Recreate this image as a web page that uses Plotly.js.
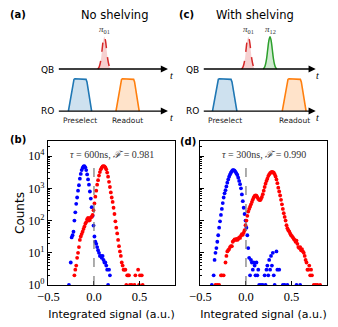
<!DOCTYPE html>
<html>
<head>
<meta charset="utf-8">
<script src="https://cdn.plot.ly/plotly-3.0.1.min.js"></script>
<style>
body{margin:0;background:#fff;}
#plot{width:338px;height:327px;}
</style>
</head>
<body>
<div id="plot"></div>
<script>

// ---- histogram data (bin centre, counts) ----
// (b) no shelving, tau = 600 ns
var xB_g = [-0.275,-0.255,-0.245,-0.235,-0.225,-0.215,-0.205,-0.195,-0.185,-0.175,
            -0.165,-0.155,-0.145,-0.135,-0.125,-0.115,-0.105,-0.095,-0.085,-0.075,
            -0.065,-0.055,-0.045,-0.035,-0.025,-0.015,-0.005,0.005,0.015,0.025,
            0.035,0.045,0.055,0.065,0.075,0.085,0.095,0.105,0.115,0.125,
            0.135,0.145,0.155,0.165,0.175];
var nB_g = [1,5,30,35,45,100,180,330,520,850,
            1250,2000,2800,3700,4300,4800,4900,4500,3700,2700,
            1900,1300,800,480,260,140,70,32,22,19,
            15,12,10,8,8,7,8,6,5,5,
            4,3,1,3,2];

var xB_e = [-0.215,-0.205,-0.195,-0.185,-0.175,-0.165,-0.155,-0.145,-0.135,-0.125,
            -0.115,-0.105,-0.095,-0.085,-0.075,-0.065,-0.055,-0.045,-0.035,-0.025,
            -0.015,-0.005,
            0.005,0.015,0.025,0.035,0.045,0.055,0.065,0.075,0.085,0.095,
            0.105,0.115,0.125,0.135,0.145,0.155,0.165,0.175,0.185,0.195,
            0.205,0.215,0.225,0.235,0.245,0.255,0.265,0.275,0.285,0.295,
            0.305,0.315,0.325,0.335,0.345,0.355,0.365,0.375,0.385,0.395,
            0.415,0.445,0.455,0.485,0.495,0.505,0.525,0.535];
var nB_e = [2,3,4,7,10,15,25,32,38,45,
            55,65,80,90,110,120,100,105,125,130,
            150,210,
            340,550,850,1300,1800,2500,3200,3900,4400,4800,
            4900,4800,4500,3900,3100,2300,1600,1100,750,520,
            380,250,160,95,60,40,25,16,11,8,
            5,4,3,3,3,1,2,2,2,1,
            1,1,2,3,1,2,2,1];

// (d) with shelving, tau = 300 ns
var xD_g = [-0.375,-0.355,
            -0.345,-0.335,-0.325,-0.315,-0.305,-0.295,-0.285,-0.275,-0.265,-0.255,
            -0.245,-0.235,-0.225,-0.215,-0.205,-0.195,-0.185,-0.175,-0.165,-0.155,
            -0.145,-0.135,-0.125,-0.115,-0.105,-0.095,-0.085,-0.075,-0.065,-0.055,
            -0.045,-0.035,-0.025,-0.015,-0.005,0.005,0.015,0.025,0.035,0.045,
            0.055,0.065,0.075,0.085,0.095,0.105,0.115,0.125,0.135,0.145,
            0.165,0.185,0.205,0.215,0.225,0.235,0.245,0.255,0.265,0.275,0.285,0.295,0.305,0.315,
            0.335,0.345,0.365,0.405,0.425,0.455,0.555,0.595];
var nD_g = [1,2,
            6,10,14,22,35,60,95,150,230,350,
            520,700,880,1150,1500,1900,2300,2700,3050,3400,
            3650,3700,3550,3250,2900,2600,2150,1700,1350,1000,
            650,400,250,160,100,60,35,14,7,2,
            6,5,3,5,4,2,5,2,3,1,
            1,1,2,1,3,4,2,6,3,8,4,10,2,1,
            11,3,3,1,1,1,1,1];

var xD_e = [-0.335,-0.315,-0.295,-0.275,-0.265,-0.245,
            -0.225,-0.215,-0.205,-0.195,-0.185,-0.175,-0.165,-0.155,-0.145,-0.135,
            -0.125,-0.115,-0.105,-0.095,-0.085,-0.075,-0.065,-0.055,-0.045,-0.035,
            -0.025,-0.015,-0.005,0.005,0.015,0.025,0.035,0.045,0.055,0.065,
            0.075,0.085,0.095,0.105,0.115,0.125,0.135,0.145,0.155,0.165,
            0.175,0.185,0.195,0.205,0.215,0.225,0.235,0.245,0.255,0.265,
            0.275,0.285,0.295,0.305,0.315,0.325,0.335,0.345,0.355,0.365,
            0.375,0.385,0.395,0.405,0.415,0.425,0.435,0.445,0.455,0.465,
            0.475,0.485,0.495,0.505,0.515,0.525,0.535,0.545,0.555,0.565,
            0.575,0.585,0.595,0.605,0.615,0.625,0.635,0.645,0.655,0.665,
            0.675,0.685,0.695,0.705,0.715,0.725,
            0.745,0.765,0.785,0.815];
var nD_e = [1,1,1,2,2,2,
            5,8,11,12,13,15,16,16,22,24,
            26,25,27,25,27,30,29,34,38,36,
            42,50,72,100,140,190,230,270,320,380,
            450,520,580,600,590,530,470,440,430,470,
            540,660,850,1100,1400,1700,2000,2400,2700,2950,
            3150,3250,3200,3050,2750,2350,1900,1450,1050,800,
            600,440,320,230,170,130,100,72,58,50,
            46,40,35,33,30,27,25,22,24,19,
            15,14,15,12,13,11,10,8,6,5,
            3,3,4,2,3,2,
            1,1,1,1];

var annotB = "<i>τ</i> = 600ns, <i>ℱ</i> = 0.981";
var annotD = "<i>τ</i> = 300ns, <i>ℱ</i> = 0.990";
var yTickVals = [1,10,100,1000,10000];
var yTickText = ["10<sup>0</sup>","10<sup>1</sup>","10<sup>2</sup>","10<sup>3</sup>","10<sup>4</sup>"];
var xTickVals = [-0.5,0,0.5];
var xTickText = ["−0.5","0.0","0.5"];

// ---- pulse schematic (time in arbitrary units, 0..10 along the arrow) ----
var preselectA = [1.0, 3.1];
var readoutA   = [5.3, 7.4];
var pi01A      = 4.25;
var preselectC = [0.9, 3.05];
var readoutC   = [7.05, 9.15];
var pi01C      = 4.06;
var pi12C      = 5.97;
// readout envelope (fraction of window, amplitude)
var trapFrac = [0, 0.2, 0.24, 0.28, 0.72, 0.76, 0.8, 1];
var trapAmp  = [0, 0.9, 0.98, 1, 1, 0.98, 0.9, 0];
// gaussian qubit pulse (offset from centre, amplitude)
var gaussOff = [-0.6,-0.5,-0.4,-0.3,-0.2,-0.1,0,0.1,0.2,0.3,0.4,0.5,0.6];
var gaussAmp = [0,0.04,0.14,0.32,0.61,0.88,1,0.88,0.61,0.32,0.14,0.04,0];
var qbLevel = 1.3;   // QB line sits above RO line (RO at 0)

var W = 338, H = 327;
function PX(p){ return p/W; }
function PY(p){ return 1 - p/H; }

var BLUE = "#1f77b4", ORANGE = "#ff7f0e", GREEN = "#2ca02c", RED = "#d62728";
function rgba(hex, a){
    var r = parseInt(hex.substr(1,2),16), g = parseInt(hex.substr(3,2),16), b = parseInt(hex.substr(5,2),16);
    return "rgba("+r+","+g+","+b+","+a+")";
}

function trapTrace(win, color, xa, ya){
    var X = [], Y = [];
    for (var i = 0; i < trapFrac.length; i++){
        X.push(win[0] + trapFrac[i]*(win[1]-win[0]));
        Y.push(trapAmp[i]);
    }
    return {x:X, y:Y, xaxis:xa, yaxis:ya, type:"scatter", mode:"lines",
        fill:"toself", fillcolor:rgba(color,0.22), line:{color:color, width:1.6},
        cliponaxis:false, hoverinfo:"skip", showlegend:false};
}
function gaussTrace(t0, color, dash, xa, ya){
    var X = [], Y = [];
    for (var i = 0; i < gaussOff.length; i++){
        X.push(t0 + gaussOff[i]);
        Y.push(qbLevel + gaussAmp[i]);
    }
    return {x:X, y:Y, xaxis:xa, yaxis:ya, type:"scatter", mode:"lines",
        fill:"toself", fillcolor:rgba(color,0.22), line:{color:color, width:1.5, dash:dash, shape:"spline"},
        cliponaxis:false, hoverinfo:"skip", showlegend:false};
}
function dots(X, N, color, xa, ya){
    return {x:X, y:N, xaxis:xa, yaxis:ya, type:"scatter", mode:"markers",
        marker:{color:color, size:3.8}, showlegend:false};
}

var data = [
    dots(xB_g, nB_g, "#0000ff", "x", "y"),
    dots(xB_e, nB_e, "#ff0000", "x", "y"),
    dots(xD_g, nD_g, "#0000ff", "x2", "y2"),
    dots(xD_e, nD_e, "#ff0000", "x2", "y2"),
    trapTrace(preselectA, BLUE, "x3", "y3"),
    trapTrace(readoutA, ORANGE, "x3", "y3"),
    gaussTrace(pi01A, RED, "dash", "x3", "y3"),
    trapTrace(preselectC, BLUE, "x4", "y4"),
    trapTrace(readoutC, ORANGE, "x4", "y4"),
    gaussTrace(pi01C, RED, "dash", "x4", "y4"),
    gaussTrace(pi12C, GREEN, "solid", "x4", "y4")
];

var serif = "Liberation Serif, DejaVu Serif, serif";
var sans = "DejaVu Sans, sans-serif";

function xAxisHist(dom, anchor){
    return {domain:dom, anchor:anchor, range:[-0.505, 0.89], tickvals:xTickVals, ticktext:xTickText,
        ticks:"inside", ticklen:4, tickcolor:"#000", showline:true, mirror:true, linecolor:"#000", linewidth:1.2,
        showgrid:false, zeroline:false, tickfont:{family:serif, size:12.5, color:"#000"},
        title:{text:"Integrated signal (a.u.)", font:{family:sans, size:11, color:"#000"}, standoff:7}};
}
function yAxisHist(anchor, labels){
    return {domain:[PY(285), PY(141)], anchor:anchor, type:"log", range:[0, 4.47],
        tickvals:yTickVals, ticktext:yTickText, showticklabels:labels,
        ticks:"inside", ticklen:4, tickcolor:"#000",
        minor:{ticks:"inside", ticklen:2, tickcolor:"#000", dtick:"D1", showgrid:false},
        showline:true, mirror:true, linecolor:"#000", linewidth:1.2,
        showgrid:false, zeroline:false, tickfont:{family:serif, size:12, color:"#000"}};
}
function hidden(dom, range, anchor){
    return {domain:dom, range:range, anchor:anchor, visible:false, fixedrange:true};
}

var yb = yAxisHist("x", true);
yb.title = {text:"Counts", font:{family:sans, size:12, color:"#000"}, standoff:1};

var layout = {
    width:W, height:H,
    margin:{l:0, r:0, t:0, b:0},
    paper_bgcolor:"#fff", plot_bgcolor:"#fff",
    showlegend:false,
    xaxis: xAxisHist([PX(48), PX(175)], "y"),
    yaxis: yb,
    xaxis2: xAxisHist([PX(200), PX(327)], "y2"),
    yaxis2: yAxisHist("x2", false),
    xaxis3: hidden([PX(51.8), PX(173.5)], [-0.5, 10.5], "y3"),
    yaxis3: hidden([PY(117.5), PY(30.2)], [-0.2, 2.5], "x3"),
    xaxis4: hidden([PX(196.6), PX(321.4)], [-0.5, 10.5], "y4"),
    yaxis4: hidden([PY(117.5), PY(30.2)], [-0.2, 2.5], "x4"),
    shapes: [
        {type:"line", xref:"x", yref:"y domain", x0:0, x1:0, y0:0, y1:1, line:{color:"#777", width:1.2, dash:"dash"}},
        {type:"line", xref:"x2", yref:"y2 domain", x0:0, x1:0, y0:0, y1:1, line:{color:"#777", width:1.2, dash:"dash"}}
    ],
    annotations: []
};

var ann = layout.annotations;
function txt(text, x, y, opts){
    var a = {text:text, x:PX(x), y:PY(y), xref:"paper", yref:"paper", showarrow:false,
        xanchor:"center", yanchor:"middle", font:{family:sans, size:10, color:"#000"}};
    for (var k in opts){ a[k] = opts[k]; }
    ann.push(a);
}
function axisArrow(xa, ya, level){
    ann.push({text:"", x:10, y:level, ax:0, ay:level, xref:xa, yref:ya, axref:xa, ayref:ya,
        showarrow:true, arrowhead:2, arrowsize:1.1, arrowwidth:1.3, arrowcolor:"#000", standoff:0, startstandoff:0});
}

// panel letters and titles
txt("<b>(a)</b>", 18, 15, {});
txt("<b>(b)</b>", 17.5, 140, {});
txt("<b>(c)</b>", 186, 15, {});
txt("<b>(d)</b>", 187.5, 141.5, {});
txt("No shelving", 114.7, 15, {font:{family:sans, size:11.5, color:"#000"}});
txt("With shelving", 254.5, 15, {font:{family:sans, size:11.5, color:"#000"}});

// schematic axes
axisArrow("x3", "y3", qbLevel); axisArrow("x3", "y3", 0);
axisArrow("x4", "y4", qbLevel); axisArrow("x4", "y4", 0);
txt("QB", 56, 69.5, {xanchor:"right", font:{family:sans, size:9, color:"#000"}});
txt("RO", 56, 111, {xanchor:"right", font:{family:sans, size:9, color:"#000"}});
txt("QB", 201, 69.5, {xanchor:"right", font:{family:sans, size:9, color:"#000"}});
txt("RO", 201, 111, {xanchor:"right", font:{family:sans, size:9, color:"#000"}});
var tFont = {family:serif, size:10, color:"#000"};
txt("<i>t</i>", 171, 76, {font:tFont});
txt("<i>t</i>", 171, 117, {font:tFont});
txt("<i>t</i>", 317, 76, {font:tFont});
txt("<i>t</i>", 317, 117, {font:tFont});

// pulse labels, placed from the pulse timings
var lblFont = {family:sans, size:7.5, color:"#222"};
var piFont = {family:serif, size:9, color:"#333"};
function pulseLabel(text, xa, t, y, font){
    ann.push({text:text, x:t, y:PY(y), xref:xa, yref:"paper", showarrow:false,
        xanchor:"center", yanchor:"middle", font:font});
}
pulseLabel("Preselect", "x3", (preselectA[0]+preselectA[1])/2, 121, lblFont);
pulseLabel("Readout", "x3", (readoutA[0]+readoutA[1])/2, 121, lblFont);
pulseLabel("Preselect", "x4", (preselectC[0]+preselectC[1])/2, 121, lblFont);
pulseLabel("Readout", "x4", (readoutC[0]+readoutC[1])/2, 121, lblFont);
pulseLabel("<i>π</i><sub>01</sub>", "x3", pi01A, 29.5, piFont);
pulseLabel("<i>π</i><sub>01</sub>", "x4", pi01C, 29.5, piFont);
pulseLabel("<i>π</i><sub>12</sub>", "x4", pi12C, 29.5, piFont);

// fidelity notes (white box hides the dashed line behind the text)
txt(annotB, 111.5, 154, {font:{family:serif, size:10, color:"#333"}, bgcolor:"#fff", borderpad:0});
txt(annotD, 263.5, 154, {font:{family:serif, size:10, color:"#333"}, bgcolor:"#fff", borderpad:0});

Plotly.newPlot("plot", data, layout, {staticPlot:true});
</script>
</body>
</html>
